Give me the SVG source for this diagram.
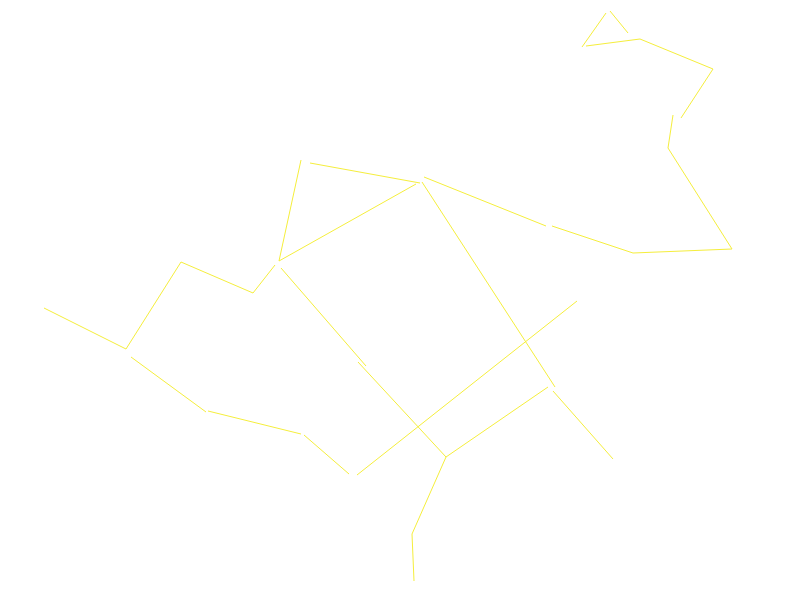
<svg xmlns="http://www.w3.org/2000/svg" width="800" height="600" viewBox="0 0 800 600">
<style>
.s{fill:none;stroke:#f5ee3c;stroke-width:1}
</style>
<rect width="800" height="600" fill="#ffffff"/>
<g id="lines" class="s">
<polyline points="582,47 606,13"/>
<polyline points="610,11 628,33"/>
<polyline points="586,46 640,39 713,69 681,118"/>
<polyline points="673,115 668,148 732,249 633,253 552,226"/>
<polyline points="546,226 424,177"/>
<polyline points="422,182 555,387"/>
<polyline points="553,391 613,459"/>
<polyline points="548,387 446,457 412,534 414,581"/>
<polyline points="358,362 446,457"/>
<polyline points="281,268 366,366"/>
<polyline points="577,301 357,475"/>
<polyline points="349,474 304,435"/>
<polyline points="301,434 208,411"/>
<polyline points="206,412 131,357"/>
<polyline points="44,308 126,349 181,262 253,293 275,265"/>
<polyline points="301,160 279,261 416,184"/>
<polyline points="310,163 420,183"/>
</g>
</svg>
